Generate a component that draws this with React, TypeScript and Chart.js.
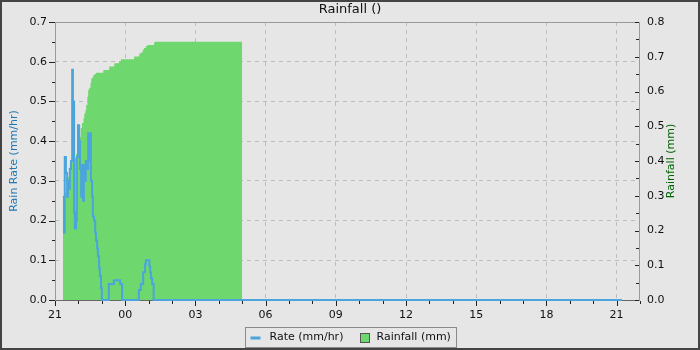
import { useEffect, useRef } from 'react';
import { Chart, registerables } from 'chart.js';

Chart.register(...registerables);

// ---------- data ----------
const chartTitle = 'Rainfall ()';
const rateLabel = 'Rate (mm/hr)';
const rainLabel = 'Rainfall (mm)';
const leftAxisTitle = 'Rain Rate (mm/hr)';
const rightAxisTitle = 'Rainfall (mm)';

const startHour = 21; // x axis starts at 21:00
const spanHours = 25; // x axis covers 25 hours
const hourLabelStep = 3;
const rateAxisMax = 0.7;
const rainAxisMax = 0.8;
const axisStep = 0.05;

// minutes after 21:00 and rain rate (mm/hr)
const rateMinutes = [20, 23, 25, 28, 31, 33, 36, 38, 41, 44, 46, 49, 51, 54, 56, 59, 62, 64, 67, 69, 72, 74, 77, 79, 82, 85, 87, 90, 92, 95, 97, 100, 103, 105, 108, 110, 113, 115, 118, 120, 138, 151, 167, 172, 215, 220, 226, 231, 233, 242, 244, 246, 249, 253, 1454];
const rateValues = [0.26, 0.17, 0.36, 0.32, 0.26, 0.30, 0.28, 0.33, 0.35, 0.58, 0.50, 0.22, 0.18, 0.20, 0.36, 0.44, 0.40, 0.33, 0.26, 0.34, 0.25, 0.34, 0.30, 0.35, 0.33, 0.42, 0.35, 0.42, 0.30, 0.26, 0.21, 0.20, 0.17, 0.15, 0.13, 0.11, 0.08, 0.06, 0.03, 0, 0.04, 0.05, 0.04, 0, 0.025, 0.04, 0.07, 0.09, 0.10, 0.085, 0.07, 0.055, 0.04, 0, 0];

// minutes after 21:00 and accumulated rainfall (mm)
const rainMinutes = [20, 26, 31, 33, 36, 38, 41, 46, 54, 57, 60, 66, 69, 73, 75, 78, 80, 83, 85, 88, 91, 93, 97, 100, 105, 124, 139, 152, 164, 169, 203, 216, 221, 225, 228, 233, 237, 254, 256, 480];
const rainValues = [0.286, 0.309, 0.331, 0.354, 0.366, 0.389, 0.4, 0.408, 0.421, 0.438, 0.469, 0.495, 0.509, 0.523, 0.537, 0.546, 0.561, 0.585, 0.605, 0.611, 0.625, 0.638, 0.645, 0.65, 0.654, 0.662, 0.672, 0.681, 0.687, 0.693, 0.701, 0.709, 0.713, 0.72, 0.725, 0.731, 0.734, 0.741, 0.743, 0.743];

// ---------- styles ----------
const FONT = '"DejaVu Sans", sans-serif';
const BG = '#e6e6e6';
const BLUE = '#4ba5dc';
const GREEN = '#6ed76e';
const GRID = '#bdbdbd';
const TEXT = '#111111';
const LEFT_TITLE_COLOR = '#1f78b4';
const RIGHT_TITLE_COLOR = '#006400';

const isTenth = (v: number) => Math.round(v * 100) % 10 === 0;
const isMajorHour = (v: number) => Math.round(v) % hourLabelStep === 0;
const hourLabel = (v: number) => {
  if (!isMajorHour(v)) return '';
  const h = (startHour + Math.round(v)) % 24;
  return String(h).padStart(2, '0');
};

const decorPlugin = {
  id: 'decor',
  beforeDraw(chart: any) {
    const { ctx, width, height } = chart;
    ctx.save();
    ctx.fillStyle = BG;
    ctx.fillRect(0, 0, width, height);
    ctx.restore();
  },
  beforeDatasetsDraw(chart: any) {
    const { ctx, chartArea } = chart;
    const { left, right, bottom } = chartArea;
    ctx.save();
    ctx.lineWidth = 1;
    ctx.strokeStyle = '#666666';
    ctx.beginPath();
    ctx.moveTo(Math.round(left), Math.round(bottom) + 0.5);
    ctx.lineTo(Math.round(right), Math.round(bottom) + 0.5);
    ctx.stroke();
    ctx.restore();
  },
  afterDatasetsDraw(chart: any) {
    const { ctx, chartArea } = chart;
    const { left, right, top, bottom } = chartArea;
    const xs = chart.scales.x;
    const ys = chart.scales.y;
    const y1s = chart.scales.y1;
    ctx.save();
    // plot frame
    ctx.lineWidth = 1;
    ctx.strokeStyle = '#999999';
    ctx.beginPath();
    ctx.moveTo(Math.round(left) + 0.5, Math.round(bottom) + 1);
    ctx.lineTo(Math.round(left) + 0.5, Math.round(top) + 0.5);
    ctx.lineTo(Math.round(right) - 0.5, Math.round(top) + 0.5);
    ctx.lineTo(Math.round(right) - 0.5, Math.round(bottom) + 1);
    ctx.stroke();
    // tick marks
    ctx.strokeStyle = '#222222';
    ctx.beginPath();
    xs.ticks.forEach((t: any) => {
      const px = Math.round(xs.getPixelForValue(t.value)) + 0.5;
      const len = isMajorHour(t.value) ? 5 : 3;
      ctx.moveTo(px, Math.round(bottom) + 1);
      ctx.lineTo(px, Math.round(bottom) + 1 + len);
    });
    ys.ticks.forEach((t: any) => {
      const py = Math.round(ys.getPixelForValue(t.value)) + 0.5;
      const len = isTenth(t.value) ? 6 : 3;
      ctx.moveTo(Math.round(left) - len, py);
      ctx.lineTo(Math.round(left), py);
    });
    y1s.ticks.forEach((t: any) => {
      const py = Math.round(y1s.getPixelForValue(t.value)) + 0.5;
      const len = isTenth(t.value) ? 4 : 3;
      ctx.moveTo(Math.round(right) - 1 - len, py);
      ctx.lineTo(Math.round(right) - 1, py);
    });
    ctx.stroke();
    ctx.restore();
  },
  afterDraw(chart: any) {
    const { ctx, width, height, chartArea } = chart;
    ctx.save();
    // right axis title (reads bottom to top)
    ctx.font = `11px ${FONT}`;
    ctx.fillStyle = RIGHT_TITLE_COLOR;
    ctx.textAlign = 'center';
    ctx.textBaseline = 'middle';
    ctx.translate(671, (chartArea.top + chartArea.bottom) / 2);
    ctx.rotate(-Math.PI / 2);
    ctx.fillText(rightAxisTitle, 0, 0);
    ctx.setTransform(1, 0, 0, 1, 0, 0);

    // legend
    const ds = chart.data.datasets;
    ctx.font = `11px ${FONT}`;
    ctx.textAlign = 'left';
    const w1 = ctx.measureText(ds[0].label).width;
    const w2 = ctx.measureText(ds[1].label).width;
    const total = Math.round(5 + 10 + 9 + w1 + 17 + 9 + 7 + w2 + 6);
    const bx = Math.round(width / 2 - total / 2) + 0.5;
    const by = 327.5;
    const bh = 20;
    const cy = by + bh / 2;
    ctx.strokeStyle = '#8a8a8a';
    ctx.lineWidth = 1;
    ctx.strokeRect(bx, by, total, bh);
    ctx.strokeStyle = ds[0].borderColor;
    ctx.lineWidth = 3;
    ctx.beginPath();
    ctx.moveTo(bx + 5, Math.round(cy));
    ctx.lineTo(bx + 15, Math.round(cy));
    ctx.stroke();
    ctx.fillStyle = TEXT;
    ctx.fillText(ds[0].label, bx + 24, cy);
    const gx = Math.round(bx + 24 + w1 + 17) + 0.5;
    ctx.fillStyle = ds[1].backgroundColor;
    ctx.fillRect(gx, Math.round(cy) - 5 + 0.5, 9, 9);
    ctx.strokeStyle = '#555555';
    ctx.lineWidth = 1;
    ctx.strokeRect(gx, Math.round(cy) - 5 + 0.5, 9, 9);
    ctx.fillStyle = TEXT;
    ctx.fillText(ds[1].label, gx + 16, cy);

    // outer frame
    ctx.strokeStyle = '#444444';
    ctx.lineWidth = 2;
    ctx.strokeRect(1, 1, width - 2, height - 2);
    ctx.restore();
  },
};

export default function App() {
  const ref = useRef<HTMLCanvasElement>(null);

  useEffect(() => {
    document.body.style.margin = '0';
    const canvas = ref.current;
    if (!canvas) return;
    Chart.defaults.font.family = FONT;
    Chart.defaults.font.size = 11;

    const rateData = rateMinutes.map((m, i) => ({ x: m / 60, y: rateValues[i] }));
    const rainData = rainMinutes.map((m, i) => ({ x: m / 60, y: rainValues[i] }));

    const chart = new Chart(canvas, {
      type: 'line',
      data: {
        datasets: [
          {
            label: rateLabel,
            data: rateData,
            yAxisID: 'y',
            borderColor: BLUE,
            backgroundColor: BLUE,
            borderWidth: 2,
            stepped: true,
            pointRadius: 0,
            fill: false,
            clip: false,
          },
          {
            label: rainLabel,
            data: rainData,
            yAxisID: 'y1',
            borderColor: 'rgba(0,0,0,0)',
            backgroundColor: GREEN,
            borderWidth: 1,
            stepped: true,
            pointRadius: 0,
            fill: 'origin',
          },
        ],
      },
      options: {
        responsive: false,
        animation: false,
        events: [],
        layout: { padding: 0 },
        plugins: {
          legend: { display: false },
          tooltip: { enabled: false },
          title: {
            display: true,
            text: chartTitle,
            color: TEXT,
            font: { family: FONT, size: 13, weight: 'normal', lineHeight: 1.2 },
            padding: { top: 2, bottom: 4.4 },
          },
        },
        scales: {
          x: {
            type: 'linear',
            min: 0,
            max: spanHours,
            ticks: {
              stepSize: 1,
              maxTicksLimit: 100,
              autoSkip: false,
              maxRotation: 0,
              padding: 9,
              color: TEXT,
              font: { family: FONT, size: 11 },
              callback: (v: any) => hourLabel(Number(v)),
            },
            grid: {
              drawTicks: false,
              lineWidth: 1,
              color: (c: any) => {
                const v = c.tick ? c.tick.value : 0;
                return isMajorHour(v) && v > 0 && v < spanHours ? GRID : 'rgba(0,0,0,0)';
              },
            },
            border: { display: false, dash: [4, 4] },
            afterFit: (s: any) => { s.height = 50; },
          },
          y: {
            type: 'linear',
            position: 'left',
            min: 0,
            max: rateAxisMax,
            ticks: {
              stepSize: axisStep,
              maxTicksLimit: 100,
              padding: 8,
              color: TEXT,
              font: { family: FONT, size: 11 },
              callback: (v: any) => (isTenth(Number(v)) ? Number(v).toFixed(1) : ''),
            },
            grid: {
              drawTicks: false,
              lineWidth: 1,
              color: (c: any) => {
                const v = c.tick ? c.tick.value : 0;
                return isTenth(v) && v > 0.01 && v < rateAxisMax - 0.01 ? GRID : 'rgba(0,0,0,0)';
              },
            },
            border: { display: false, dash: [4, 4] },
            title: {
              display: true,
              text: leftAxisTitle,
              color: LEFT_TITLE_COLOR,
              font: { family: FONT, size: 11 },
              padding: { top: 8, bottom: 0 },
            },
            afterFit: (s: any) => { s.width = 55; },
          },
          y1: {
            type: 'linear',
            position: 'right',
            min: 0,
            max: rainAxisMax,
            ticks: {
              stepSize: axisStep,
              maxTicksLimit: 100,
              padding: 7,
              color: TEXT,
              font: { family: FONT, size: 11 },
              callback: (v: any) => (isTenth(Number(v)) ? Number(v).toFixed(1) : ''),
            },
            grid: { drawOnChartArea: false, drawTicks: false },
            border: { display: false },
            afterFit: (s: any) => { s.width = 60; },
          },
        },
      },
      plugins: [decorPlugin],
    } as any);

    return () => chart.destroy();
  }, []);

  return (
    <div style={{ width: 700, height: 350 }}>
      <canvas ref={ref} width={700} height={350} style={{ display: 'block' }} />
    </div>
  );
}
